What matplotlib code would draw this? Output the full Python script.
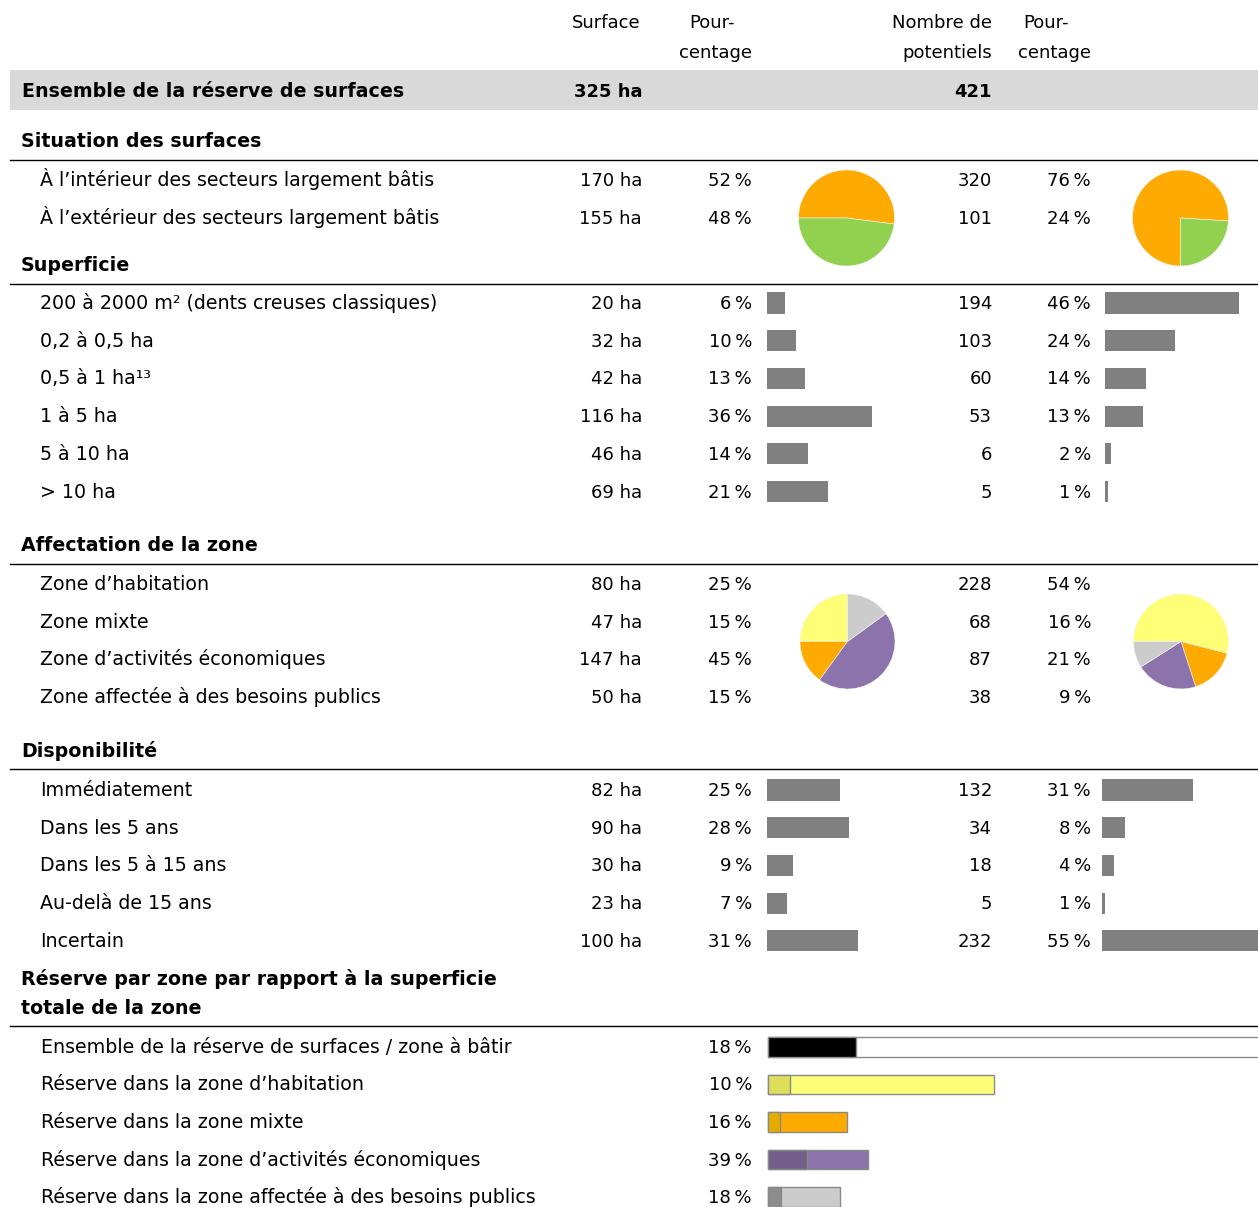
import matplotlib
matplotlib.use("Agg")
import matplotlib.pyplot as plt

plt.rcParams['font.family'] = ['DejaVu Sans']

# ---- data ----
total_ha = 325
total_n = 421

situation_labels = ["À l’intérieur des secteurs largement bâtis",
                    "À l’extérieur des secteurs largement bâtis"]
situation_ha = [170, 155]
situation_ha_pct = [52, 48]
situation_n = [320, 101]
situation_n_pct = [76, 24]

superficie_labels = ["200 à 2000 m² (dents creuses classiques)", "0,2 à 0,5 ha",
                     "0,5 à 1 ha¹³", "1 à 5 ha", "5 à 10 ha", "> 10 ha"]
superficie_ha = [20, 32, 42, 116, 46, 69]
superficie_ha_pct = [6, 10, 13, 36, 14, 21]
superficie_n = [194, 103, 60, 53, 6, 5]
superficie_n_pct = [46, 24, 14, 13, 2, 1]

affectation_labels = ["Zone d’habitation", "Zone mixte", "Zone d’activités économiques",
                      "Zone affectée à des besoins publics"]
affectation_ha = [80, 47, 147, 50]
affectation_ha_pct = [25, 15, 45, 15]
affectation_n = [228, 68, 87, 38]
affectation_n_pct = [54, 16, 21, 9]

dispo_labels = ["Immédiatement", "Dans les 5 ans", "Dans les 5 à 15 ans",
                "Au-delà de 15 ans", "Incertain"]
dispo_ha = [82, 90, 30, 23, 100]
dispo_ha_pct = [25, 28, 9, 7, 31]
dispo_n = [132, 34, 18, 5, 232]
dispo_n_pct = [31, 8, 4, 1, 55]

reserve_labels = ["Ensemble de la réserve de surfaces / zone à bâtir",
                  "Réserve dans la zone d’habitation",
                  "Réserve dans la zone mixte",
                  "Réserve dans la zone d’activités économiques",
                  "Réserve dans la zone affectée à des besoins publics"]
reserve_pct = [18, 10, 16, 39, 18]
zone_area_ha = [1800, 825, 288, 365, 265]

# ---- styles ----
W, H = 1258, 1207
FS = 13.0      # numbers
LFS = 13.7     # labels and headings
BASE = 6.0     # baseline offset below row centre (px)
BAR_GREY = "#808080"
PX_PER_PCT = 2.92
ROW = 37.7
situation_colors = ["#FFAA00", "#92D050"]
zone_colors = ["#FFFF77", "#FFAA00", "#8C73AB", "#CCCCCC"]
reserve_light = ["#FFFFFF"] + zone_colors
reserve_dark = ["#000000", "#DEDE5A", "#E5AC00", "#735F8A", "#8C8C8C"]

fig = plt.figure(figsize=(W / 100, H / 100), dpi=100)
ax = fig.add_axes([0, 0, 1, 1])
ax.set_xlim(0, W)
ax.set_ylim(H, 0)
ax.axis("off")


def txt(x, y, s, **kw):
    kw.setdefault("fontsize", FS)
    ax.text(x, y + BASE, s, va="baseline", **kw)


def label(x, y, s, **kw):
    txt(x, y, s, fontsize=LFS, **kw)


def px_axes(x0, y0, x1, y1):
    a = fig.add_axes([x0 / W, 1 - y1 / H, (x1 - x0) / W, (y1 - y0) / H])
    a.axis("off")
    return a


def pct(v):
    return f"{v}\u2009%"


# header
txt(606, 22, "Surface", ha="center")
txt(735, 22, "Pour-", ha="right")
txt(752, 52, "centage", ha="right")
txt(992, 22, "Nombre de", ha="right")
txt(992, 52, "potentiels", ha="right")
txt(1069, 22, "Pour-", ha="right")
txt(1091, 52, "centage", ha="right")

ax.axhspan(70, 110, xmin=10 / W, xmax=1, color="#D9D9D9", lw=0)
label(22, 91, "Ensemble de la réserve de surfaces", fontweight="bold")
txt(642, 91, f"{total_ha} ha", ha="right", fontweight="bold")
txt(992, 91, f"{total_n}", ha="right", fontweight="bold")


def section(lines, y_title, y_line):
    for k, line in enumerate(lines):
        label(21, y_title + k * 29, line, fontweight="bold")
    ax.plot([10, W], [y_line, y_line], color="black", lw=1)


def rows(labels, ha_vals, ha_pcts, n_vals, n_pcts, y0):
    for i, lab in enumerate(labels):
        y = y0 + i * ROW
        label(40, y, lab)
        txt(642, y, f"{ha_vals[i]} ha", ha="right")
        txt(752, y, pct(ha_pcts[i]), ha="right")
        txt(992, y, f"{n_vals[i]}", ha="right")
        txt(1091, y, pct(n_pcts[i]), ha="right")


def bar_block(values, x0, x1, y0, n, color=BAR_GREY):
    a = px_axes(x0, y0 - ROW / 2, x1, y0 + (n - 0.5) * ROW)
    a.barh(range(n), values, height=0.56, color=color, lw=0)
    a.set_xlim(0, (x1 - x0) / PX_PER_PCT)
    a.set_ylim(n - 0.5, -0.5)
    return a


def pie(values, colors, cx, cy, r, start, ccw):
    a = px_axes(cx - r, cy - r, cx + r, cy + r)
    a.pie(values, colors=colors, startangle=start, counterclock=ccw, radius=1,
          wedgeprops=dict(lw=0.4, edgecolor="#F4F4F4"))
    a.set_xlim(-1, 1)
    a.set_ylim(-1, 1)
    a.set_aspect("equal")


# Situation des surfaces
section(["Situation des surfaces"], 141, 160)
rows(situation_labels, situation_ha, situation_ha_pct, situation_n, situation_n_pct, 180)
pie(situation_ha_pct, situation_colors, 846.5, 218, 48, 180, False)
pie(situation_n_pct, situation_colors, 1180.5, 218, 48, -90, False)

# Superficie
section(["Superficie"], 265, 284)
rows(superficie_labels, superficie_ha, superficie_ha_pct, superficie_n, superficie_n_pct, 303)
bar_block(superficie_ha_pct, 767, 990, 303, 6)
bar_block(superficie_n_pct, 1105, W, 303, 6)

# Affectation de la zone
section(["Affectation de la zone"], 545, 564)
rows(affectation_labels, affectation_ha, affectation_ha_pct, affectation_n, affectation_n_pct, 584)
pie(affectation_ha_pct, zone_colors, 847.5, 641.5, 47.5, 90, True)
pie(affectation_n_pct, zone_colors, 1181, 641.5, 47.5, 180, False)

# Disponibilité
section(["Disponibilité"], 751, 769)
rows(dispo_labels, dispo_ha, dispo_ha_pct, dispo_n, dispo_n_pct, 790)
bar_block(dispo_ha_pct, 767, 990, 790, 5)
bar_block(dispo_n_pct, 1102, W, 790, 5)

# Réserve par zone
section(["Réserve par zone par rapport à la superficie", "totale de la zone"], 979, 1026)
for i, lab in enumerate(reserve_labels):
    y = 1047 + i * 37.5
    label(41, y, lab)
    txt(752, y, pct(reserve_pct[i]), ha="right")
rb = px_axes(767, 1047 - 37.5 / 2, W, 1047 + 4.5 * 37.5)
n = len(reserve_pct)
rb.barh(range(n), zone_area_ha, height=0.52, color=reserve_light, edgecolor="#8A8A8A", lw=1)
rb.barh(range(n), [a * p / 100 for a, p in zip(zone_area_ha, reserve_pct)], height=0.52,
        color=reserve_dark, edgecolor="#8A8A8A", lw=1)
rb.set_xlim(-2, zone_area_ha[0] * (W - 767) / 494)
rb.set_ylim(n - 0.5, -0.5)

fig.savefig("out.png", dpi=100)
